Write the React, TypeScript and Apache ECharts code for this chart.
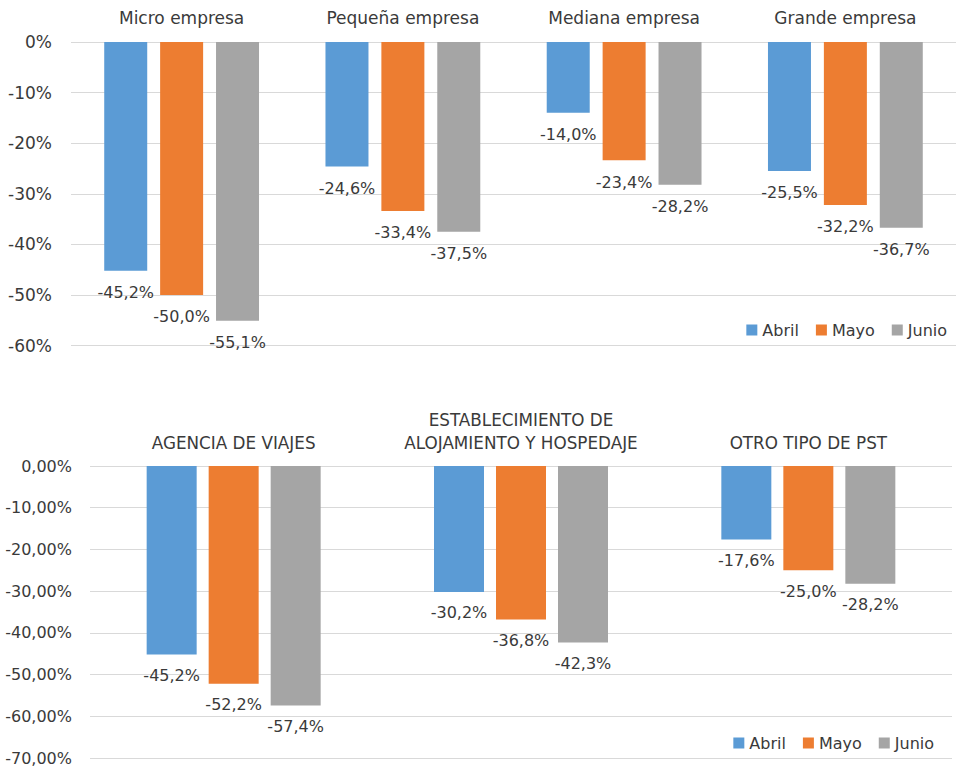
import React, { useEffect, useRef } from "react";
import * as echarts from "echarts";

const seriesNames = ["Abril", "Mayo", "Junio"];
const colors = ["#5b9bd5", "#ed7d31", "#a5a5a5"];

const topCategories = ["Micro empresa", "Pequeña empresa", "Mediana empresa", "Grande empresa"];
const topAbril = [-45.2, -24.6, -14.0, -25.5];
const topMayo = [-50.0, -33.4, -23.4, -32.2];
const topJunio = [-55.1, -37.5, -28.2, -36.7];

const bottomCategories = [
  "AGENCIA DE VIAJES",
  "ESTABLECIMIENTO DE\nALOJAMIENTO Y HOSPEDAJE",
  "OTRO TIPO DE PST",
];
const bottomAbril = [-45.2, -30.2, -17.6];
const bottomMayo = [-52.2, -36.8, -25.0];
const bottomJunio = [-57.4, -42.3, -28.2];

const FONT = "DejaVu Sans";
const TEXT = "#3a3a3a";

export default function App() {
  const ref = useRef<HTMLDivElement>(null);
  useEffect(() => {
    if (!ref.current) return;
    const chart = echarts.init(ref.current, undefined, { renderer: "svg" });
    const labelFmt = (p: any) => p.value.toFixed(1).replace(".", ",") + "%";
    const mkSeries = (data: number[][], axis: number, barWidth: number, barGap: string, dist: number) =>
      data.map((d, i) => ({
        name: seriesNames[i],
        type: "bar",
        xAxisIndex: axis,
        yAxisIndex: axis,
        data: d,
        barWidth,
        barGap,
        itemStyle: { color: colors[i] },
        label: {
          show: true,
          position: "bottom",
          distance: dist,
          formatter: labelFmt,
          fontFamily: FONT,
          fontSize: 16,
          lineHeight: 18,
          color: TEXT,
        },
      }));
    const legendBase = {
      data: seriesNames,
      icon: "rect",
      itemWidth: 11,
      itemHeight: 11,
      itemGap: 17,
      textStyle: { fontFamily: FONT, fontSize: 16, color: TEXT, lineHeight: 16 },
    };
    chart.setOption({
      animation: false,
      backgroundColor: "#ffffff",
      textStyle: { fontFamily: FONT },
      legend: [
        { ...legendBase, right: 4, top: 317 },
        { ...legendBase, right: 17, top: 730 },
      ],
      grid: [
        { left: 71, top: 42, width: 885, height: 303.5 },
        { left: 90, top: 466, width: 862, height: 292 },
      ],
      xAxis: [
        {
          type: "category",
          gridIndex: 0,
          position: "top",
          data: topCategories,
          axisLine: { show: false },
          axisTick: { show: false },
          axisLabel: { interval: 0, fontFamily: FONT, fontSize: 17, color: TEXT, lineHeight: 20, margin: 14 },
        },
        {
          type: "category",
          gridIndex: 1,
          position: "top",
          data: bottomCategories,
          axisLine: { show: false },
          axisTick: { show: false },
          axisLabel: { interval: 0, fontFamily: FONT, fontSize: 16.8, color: TEXT, lineHeight: 23, margin: 12 },
        },
      ],
      yAxis: [
        {
          type: "value",
          gridIndex: 0,
          min: -60,
          max: 0,
          interval: 10,
          axisLine: { show: false },
          axisTick: { show: false },
          splitLine: { lineStyle: { color: "#d9d9d9", width: 1 } },
          axisLabel: {
            formatter: (v: number) => v + "%",
            fontFamily: FONT,
            fontSize: 17,
            color: TEXT,
            margin: 19,
          },
        },
        {
          type: "value",
          gridIndex: 1,
          min: -70,
          max: 0,
          interval: 10,
          axisLine: { show: false },
          axisTick: { show: false },
          splitLine: { lineStyle: { color: "#d9d9d9", width: 1 } },
          axisLabel: {
            formatter: (v: number) => v.toFixed(2).replace(".", ",") + "%",
            fontFamily: FONT,
            fontSize: 16,
            color: TEXT,
            margin: 18,
          },
        },
      ],
      series: [
        ...mkSeries([topAbril, topMayo, topJunio], 0, 43, "30%", 13),
        ...mkSeries([bottomAbril, bottomMayo, bottomJunio], 1, 50, "24%", 12),
      ],
    });
    return () => chart.dispose();
  }, []);
  return (
    <div
      ref={ref}
      style={{ position: "fixed", left: 0, top: 0, width: 956, height: 766, background: "#fff" }}
    />
  );
}
